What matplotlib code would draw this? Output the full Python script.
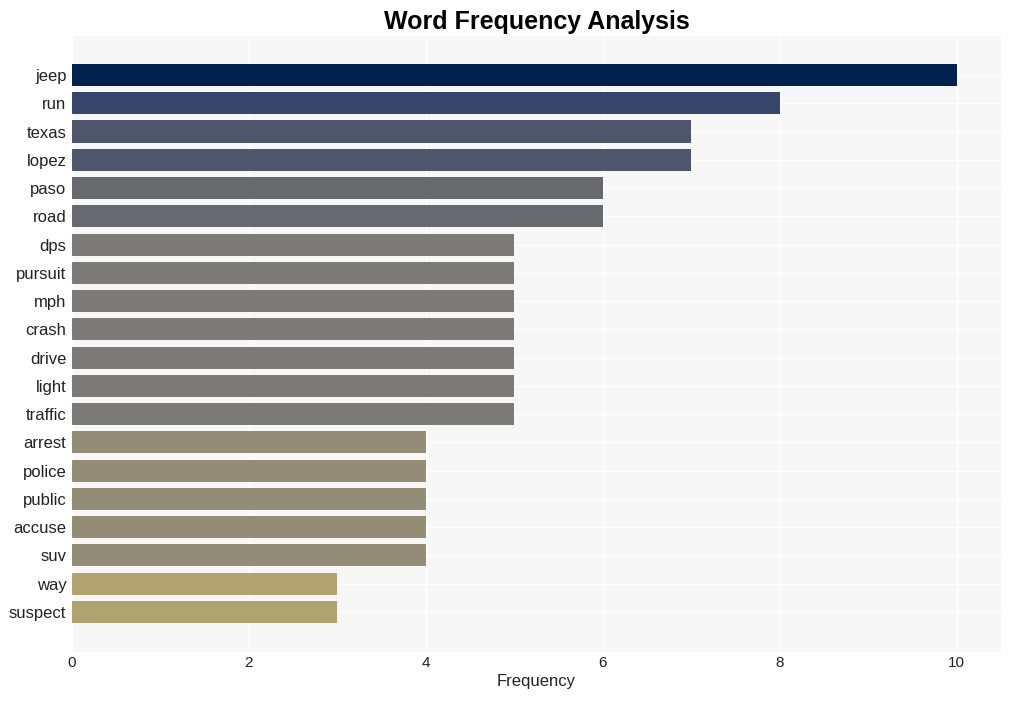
import matplotlib
matplotlib.use("Agg")
import matplotlib.pyplot as plt

plt.rcParams["font.family"] = ["Liberation Sans", "DejaVu Sans"]

words = ["jeep", "run", "texas", "lopez", "paso", "road", "dps", "pursuit", "mph", "crash",
         "drive", "light", "traffic", "arrest", "police", "public", "accuse", "suv", "way", "suspect"]
freqs = [10, 8, 7, 7, 6, 6, 5, 5, 5, 5, 5, 5, 5, 4, 4, 4, 4, 4, 3, 3]
color_by_value = {10: "#00204f", 8: "#36456b", 7: "#4d566d", 6: "#68686f",
                  5: "#7c7b78", 4: "#948d76", 3: "#b0a370"}

fig = plt.figure(figsize=(10.11, 7.01), dpi=100)
ax = fig.add_axes([72/1011, 1-652/701, (1001-72)/1011, (652-36)/701])
ax.set_facecolor("#f7f7f7")
ypos = list(range(len(words)))
ax.barh(ypos, freqs, height=0.78, color=[color_by_value[v] for v in freqs], zorder=2)
ax.set_yticks(ypos)
ax.set_yticklabels(words, fontsize=12, color="#222222")
ax.set_ylim(len(words) - 1 + 1.42, -1.38)
ax.set_xlim(0, 10.5)
ax.set_xticks([0, 2, 4, 6, 8, 10])
ax.tick_params(axis="x", labelsize=11, colors="#222222", length=0, pad=3)
ax.tick_params(axis="y", length=0, pad=4)
ax.grid(True, color="white", linewidth=1, zorder=0)
ax.set_axisbelow(True)
for s in ax.spines.values():
    s.set_visible(False)
ax.set_xlabel("Frequency", fontsize=12, color="#222222", labelpad=3)
ax.set_title("Word Frequency Analysis", fontsize=18, fontweight="bold", pad=5)
fig.savefig("out.png", dpi=100)
